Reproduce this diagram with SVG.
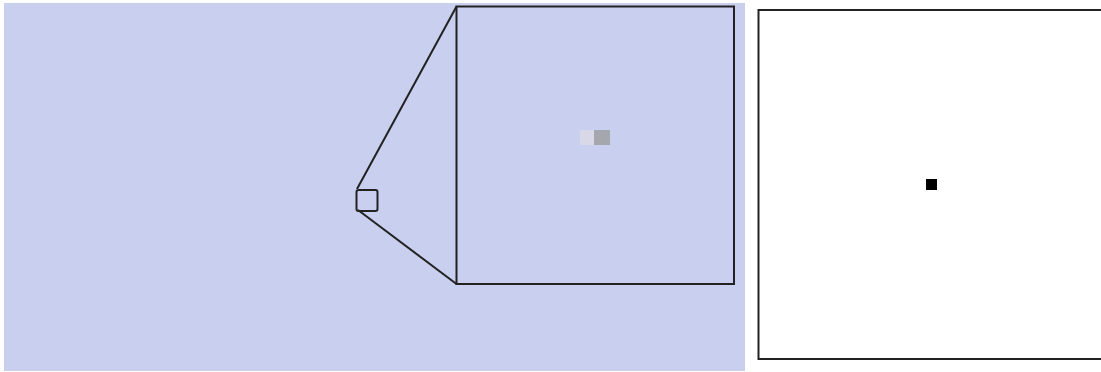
<svg xmlns="http://www.w3.org/2000/svg" width="1101" height="372" viewBox="0 0 1101 372">
<style>
.ln{stroke:#222;stroke-width:2;fill:none}
</style>
<rect x="0" y="0" width="1101" height="372" fill="#ffffff"/>
<g id="left-panel">
<rect x="4" y="3" width="741" height="368" fill="#c9cfee"/>
</g>
<g id="connectors">
<line class="ln" x1="357" y1="189" x2="456.5" y2="6.5"/>
<line class="ln" x1="358" y1="210" x2="456.5" y2="284"/>
</g>
<g id="small-square">
<rect class="ln" x="356.5" y="190" width="21" height="21" rx="2"/>
</g>
<g id="zoom-square">
<rect class="ln" x="456.5" y="6.5" width="277.5" height="277.5" fill="#c9cfee"/>
<rect x="580" y="130" width="14" height="15" fill="#d8d8e8"/>
<rect x="594" y="130" width="16" height="15" fill="#a4a7ad"/>
</g>
<g id="right-panel">
<rect class="ln" x="758.5" y="10" width="350" height="349" fill="#ffffff"/>
<rect x="926" y="179" width="11" height="11" fill="#000"/>
</g>
</svg>
